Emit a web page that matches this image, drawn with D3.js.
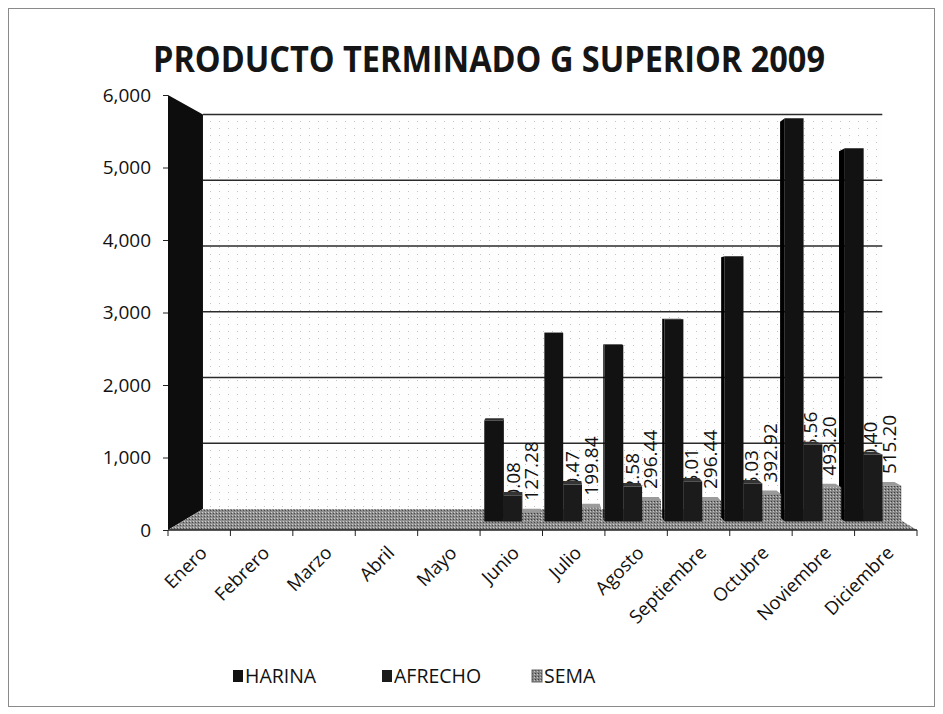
<!DOCTYPE html>
<html>
<head>
<meta charset="utf-8">
<script src="https://cdn.jsdelivr.net/npm/d3@7"></script>
<style>
  body { margin: 0; background: #fff; }
  svg { display: block; }
</style>
</head>
<body>
<div id="chart"></div>
<script>
// chart data
const months = ["Enero", "Febrero", "Marzo", "Abril", "Mayo", "Junio", "Julio",
                "Agosto", "Septiembre", "Octubre", "Noviembre", "Diciembre"];
const seriesNames = ["HARINA", "AFRECHO", "SEMA"];
const harina  = [0, 0, 0, 0, 0, 1450, 2700, 2530, 2900, 3800, 5780, 5350];
const afrecho = [0, 0, 0, 0, 0, 370.08, 530.47, 502.58, 575.01, 546.03, 1105.56, 960.40];
const sema    = [0, 0, 0, 0, 0, 127.28, 199.84, 296.44, 296.44, 392.92, 493.20, 515.20];
const yTicks  = [0, 1000, 2000, 3000, 4000, 5000, 6000];

// page and 3d geometry
const width = 943, height = 714;
const plot = { left: 168, right: 917, top: 95, bottom: 530 };
const vp = { x: 544, y: 304 };     // vanishing point
const depthK = 0.093;              // how far the back plane moves toward vp
const zFront = 0.4, zBack = 0.6;   // bar depth inside the floor

const fills = { HARINA: "#121212", AFRECHO: "#1b1b1b", SEMA: "url(#semaPat)" };
const sides = { HARINA: "#000", AFRECHO: "#050505", SEMA: "#5a5a5a" };
const tops  = { HARINA: "#2e2e2e", AFRECHO: "#333", SEMA: "#9a9a9a" };

const svg = d3.select("#chart").append("svg")
    .attr("width", width)
    .attr("height", height)
    .style("font-family", "'Open Sans', 'Liberation Sans', sans-serif");

// textures from the scanned print
const defs = svg.append("defs");
const semaPat = defs.append("pattern").attr("id", "semaPat")
    .attr("width", 3).attr("height", 3).attr("patternUnits", "userSpaceOnUse");
semaPat.append("rect").attr("width", 3).attr("height", 3).attr("fill", "#858585");
semaPat.append("rect").attr("width", 1).attr("height", 1).attr("fill", "#3c3c3c");
semaPat.append("rect").attr("x", 2).attr("y", 1).attr("width", 1).attr("height", 1).attr("fill", "#c4c4c4");

const floorPat = defs.append("pattern").attr("id", "floorPat")
    .attr("width", 3).attr("height", 3).attr("patternUnits", "userSpaceOnUse");
floorPat.append("rect").attr("width", 3).attr("height", 3).attr("fill", "#8e8e8e");
floorPat.append("rect").attr("width", 1).attr("height", 1).attr("fill", "#4a4a4a");
floorPat.append("rect").attr("x", 1).attr("y", 2).attr("width", 1).attr("height", 1).attr("fill", "#cfcfcf");

const wallPat = defs.append("pattern").attr("id", "wallPat")
    .attr("width", 9).attr("height", 7).attr("patternUnits", "userSpaceOnUse");
wallPat.append("rect").attr("width", 9).attr("height", 7).attr("fill", "#fefefe");
wallPat.append("rect").attr("x", 3).attr("y", 2).attr("width", 1).attr("height", 1).attr("fill", "#c4c4c4");

// outer frame
svg.append("rect")
    .attr("x", 8.5).attr("y", 8.5)
    .attr("width", 926).attr("height", 698)
    .attr("fill", "none")
    .attr("stroke", "#8a8a8a");

// title
svg.append("text")
    .attr("x", 489).attr("y", 72)
    .attr("text-anchor", "middle")
    .attr("textLength", 672)
    .attr("lengthAdjust", "spacingAndGlyphs")
    .style("font-size", "36px")
    .style("font-weight", "bold")
    .style("fill", "#151515")
    .text("PRODUCTO TERMINADO G SUPERIOR 2009");

// scales
const y = d3.scaleLinear().domain([0, 6000]).range([plot.bottom, plot.top]);
const x = d3.scaleBand().domain(months)
    .range([plot.left, plot.right])
    .paddingInner(0.06).paddingOuter(0.03);
const xs = d3.scaleBand().domain(seriesNames).range([0, x.bandwidth()]);

// perspective projection of a front-plane point pushed back by z (0..1)
function proj(px, py, z) {
    const t = z * depthK;
    return [px + t * (vp.x - px), py + t * (vp.y - py)];
}
const pts = arr => arr.map(p => p.join(",")).join(" ");

// walls and floor
const yMax = y(6000), y0 = y(0);
svg.append("polygon")
    .attr("points", pts([proj(plot.left, yMax, 1), proj(plot.right, yMax, 1),
                         proj(plot.right, y0, 1), proj(plot.left, y0, 1)]))
    .attr("fill", "url(#wallPat)");

svg.append("polygon")
    .attr("points", pts([proj(plot.left, yMax, 0), proj(plot.left, yMax, 1),
                         proj(plot.left, y0, 1), proj(plot.left, y0, 0)]))
    .attr("fill", "#0d0d0d");

svg.append("polygon")
    .attr("points", pts([proj(plot.left, y0, 0), proj(plot.right, y0, 0),
                         proj(plot.right, y0, 1), proj(plot.left, y0, 1)]))
    .attr("fill", "url(#floorPat)");

// gridlines on the back wall
svg.append("g").selectAll("line")
    .data(yTicks.filter(d => d > 0))
    .enter().append("line")
    .attr("x1", d => proj(plot.left, y(d), 1)[0])
    .attr("y1", d => proj(plot.left, y(d), 1)[1])
    .attr("x2", d => proj(plot.right, y(d), 1)[0])
    .attr("y2", d => proj(plot.right, y(d), 1)[1])
    .attr("stroke", "#2a2a2a")
    .attr("stroke-width", 1.6);

// y axis at the front
const yAxis = g => g
    .attr("transform", `translate(${plot.left},0)`)
    .call(d3.axisLeft(y).tickValues(yTicks).tickSize(5).tickPadding(12).tickFormat(d3.format(",")))
    .call(g => g.select(".domain").remove())
    .call(g => g.selectAll(".tick line").attr("stroke", "#222"))
    .call(g => g.selectAll("text").attr("fill", "#111")
        .style("font-family", "'Open Sans', sans-serif").style("font-size", "19px"));
svg.append("g").call(yAxis);

// x axis: front edge of the floor
const edges = d3.range(months.length + 1).map(i => plot.left + i * x.step());
const xg = svg.append("g");
xg.append("line")
    .attr("x1", plot.left).attr("x2", plot.right)
    .attr("y1", y0).attr("y2", y0)
    .attr("stroke", "#222").attr("stroke-width", 1.5);
xg.selectAll(".tk")
    .data(edges)
    .enter().append("line")
    .attr("class", "tk")
    .attr("x1", d => d).attr("x2", d => d)
    .attr("y1", y0).attr("y2", y0 + 6)
    .attr("stroke", "#222");
xg.selectAll(".lbl")
    .data(months)
    .enter().append("text")
    .attr("class", "lbl")
    .attr("transform", d => `translate(${x(d) + x.bandwidth() / 2 + 9},${y0 + 24}) rotate(-45)`)
    .attr("text-anchor", "end")
    .style("font-size", "18.5px")
    .style("fill", "#111")
    .text(d => d);

// bars as 3d boxes
const values = { HARINA: harina, AFRECHO: afrecho, SEMA: sema };
const bars = [];
months.forEach((m, i) => {
    seriesNames.forEach(s => {
        const v = values[s][i];
        if (v <= 0) return;
        const x0 = x(m) + xs(s), x1 = x0 + xs.bandwidth();
        bars.push({ month: m, series: s, value: v, x0, x1 });
    });
});
bars.sort((a, b) => Math.abs((b.x0 + b.x1) / 2 - vp.x) - Math.abs((a.x0 + a.x1) / 2 - vp.x));

const barG = svg.append("g");
bars.forEach(b => {
    const yt = y(b.value);
    const fBL = proj(b.x0, y0, zFront), fBR = proj(b.x1, y0, zFront);
    const fTL = proj(b.x0, yt, zFront), fTR = proj(b.x1, yt, zFront);
    const bBL = proj(b.x0, y0, zBack), bBR = proj(b.x1, y0, zBack);
    const bTL = proj(b.x0, yt, zBack), bTR = proj(b.x1, yt, zBack);
    const g = barG.append("g");
    if (b.x1 < vp.x) {
        g.append("polygon").attr("points", pts([fBR, fTR, bTR, bBR])).attr("fill", sides[b.series]);
    } else if (b.x0 > vp.x) {
        g.append("polygon").attr("points", pts([fBL, fTL, bTL, bBL])).attr("fill", sides[b.series]);
    }
    if (fTL[1] > vp.y) {
        g.append("polygon").attr("points", pts([fTL, fTR, bTR, bTL])).attr("fill", tops[b.series]);
    }
    g.append("polygon").attr("points", pts([fBL, fBR, fTR, fTL])).attr("fill", fills[b.series]);
    b.labelX = proj((b.x0 + b.x1) / 2, yt, 0.5)[0];
    b.topY = Math.min(fTL[1], bTL[1]);
});

// data labels; the AFRECHO ones sink behind their own bar, so only the tail shows
const fmt = d3.format(",.2f");
const labelG = svg.append("g");
bars.filter(b => b.series !== "HARINA").forEach((b, k) => {
    if (b.series === "SEMA") {
        labelG.append("text")
            .attr("transform", `translate(${b.labelX},${b.topY - 8}) rotate(-90)`)
            .attr("text-anchor", "start")
            .attr("dominant-baseline", "central")
            .style("font-size", "19px")
            .style("fill", "#111")
            .text(fmt(b.value));
    } else {
        defs.append("clipPath").attr("id", "clipA" + k)
            .append("rect")
            .attr("x", b.labelX - 14).attr("y", b.topY - 60)
            .attr("width", 28).attr("height", 60);
        labelG.append("g").attr("clip-path", `url(#clipA${k})`)
            .append("text")
            .attr("transform", `translate(${b.labelX},${b.topY - 30}) rotate(-90)`)
            .attr("text-anchor", "end")
            .attr("dominant-baseline", "central")
            .style("font-size", "19px")
            .style("fill", "#111")
            .text(fmt(b.value));
    }
});

// legend
const legend = svg.append("g").attr("transform", "translate(233,670)");
const legendX = [0, 149, 299];
seriesNames.forEach((s, i) => {
    const item = legend.append("g").attr("transform", `translate(${legendX[i]},0)`);
    item.append("rect")
        .attr("width", 10).attr("height", 12)
        .attr("fill", s === "SEMA" ? "url(#semaPat)" : fills[s])
        .attr("stroke", s === "SEMA" ? "#666" : "none");
    item.append("text")
        .attr("x", 12).attr("y", 13)
        .style("font-size", "19.5px")
        .style("fill", "#111")
        .text(s);
});
</script>
</body>
</html>
